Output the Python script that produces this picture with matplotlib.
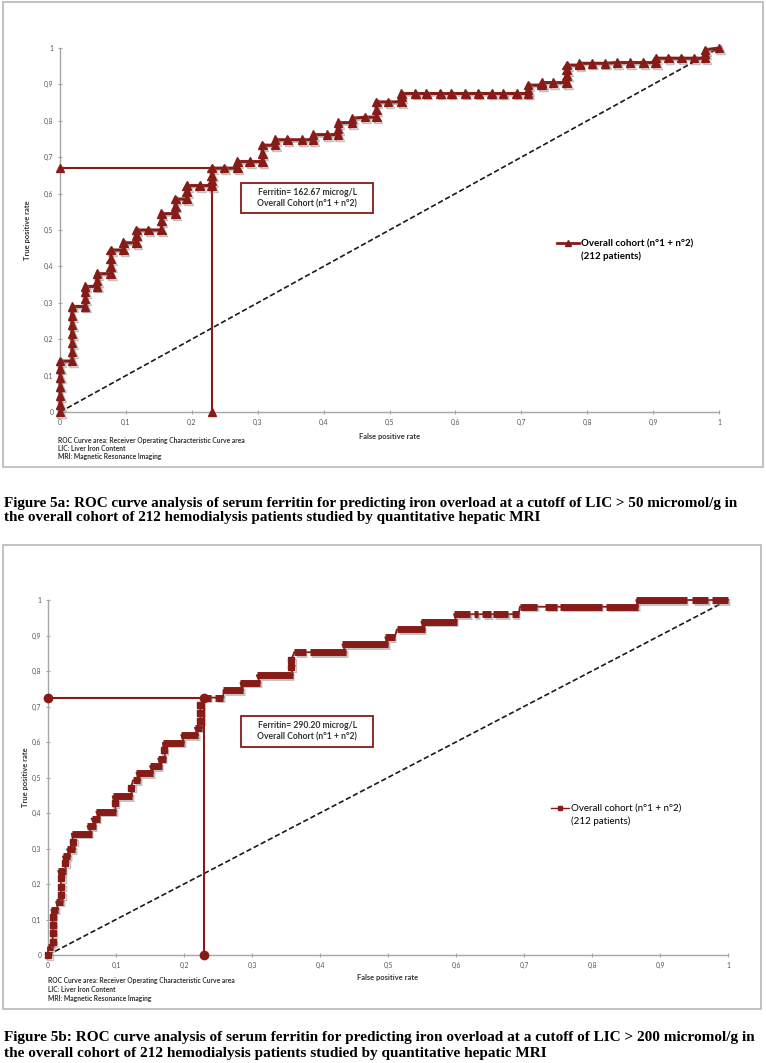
import matplotlib
matplotlib.use('Agg')
import matplotlib.pyplot as plt
import matplotlib.patheffects as pe
from matplotlib.patches import Rectangle
from matplotlib.lines import Line2D

W, H = 766, 1063
RED = '#861b17'
AXGREY = '#a6a6a6'
FONT = 'Lato'

ticks = [0, 0.1, 0.2, 0.3, 0.4, 0.5, 0.6, 0.7, 0.8, 0.9, 1]
tick_labels = ['0', '0,1', '0,2', '0,3', '0,4', '0,5', '0,6', '0,7', '0,8', '0,9', '1']

legend_lines = ['Overall cohort (n°1 + n°2)', '(212 patients)']
notes = ['ROC Curve area: Receiver Operating Characteristic Curve area',
         'LIC: Liver Iron Content',
         'MRI: Magnetic Resonance Imaging']
box_a = ['Ferritin= 162.67 microg/L', 'Overall Cohort (n°1 + n°2)']
box_b = ['Ferritin= 290.20 microg/L', 'Overall Cohort (n°1 + n°2)']
caption_a = ['Figure 5a: ROC curve analysis of serum ferritin for predicting iron overload at a cutoff of LIC > 50 micromol/g in',
             'the overall cohort of 212 hemodialysis patients studied by quantitative hepatic MRI']
caption_b = ['Figure 5b: ROC curve analysis of serum ferritin for predicting iron overload at a cutoff of LIC > 200 micromol/g in',
             'the overall cohort of 212 hemodialysis patients studied by quantitative hepatic MRI']

# figure 5a: ROC points (fpr, tpr), LIC > 50
roc_a = [(0, 0), (0, 0.02), (0, 0.045), (0, 0.07), (0, 0.095), (0, 0.12), (0, 0.14),
         (0.018, 0.14), (0.018, 0.165), (0.018, 0.19), (0.018, 0.215), (0.018, 0.24), (0.018, 0.265), (0.018, 0.29),
         (0.038, 0.29), (0.038, 0.31), (0.038, 0.33), (0.038, 0.345),
         (0.056, 0.345), (0.056, 0.36), (0.056, 0.38),
         (0.077, 0.38), (0.077, 0.40), (0.077, 0.42), (0.077, 0.445),
         (0.096, 0.445), (0.096, 0.465),
         (0.116, 0.465), (0.116, 0.485), (0.116, 0.50),
         (0.134, 0.50),
         (0.154, 0.50), (0.154, 0.525), (0.154, 0.545),
         (0.175, 0.545), (0.175, 0.565), (0.175, 0.585),
         (0.192, 0.585), (0.192, 0.605), (0.192, 0.622),
         (0.212, 0.622),
         (0.23, 0.622), (0.23, 0.635), (0.23, 0.65), (0.23, 0.67),
         (0.249, 0.67),
         (0.269, 0.67), (0.269, 0.688),
         (0.288, 0.688),
         (0.307, 0.688), (0.307, 0.71), (0.307, 0.733),
         (0.326, 0.733), (0.326, 0.748),
         (0.345, 0.748), (0.367, 0.748),
         (0.384, 0.748), (0.384, 0.762),
         (0.405, 0.762),
         (0.422, 0.762), (0.422, 0.778), (0.422, 0.795),
         (0.443, 0.795), (0.443, 0.807),
         (0.463, 0.81),
         (0.48, 0.81), (0.48, 0.83), (0.48, 0.852),
         (0.498, 0.852),
         (0.518, 0.852), (0.518, 0.865), (0.518, 0.875),
         (0.539, 0.875), (0.556, 0.875), (0.577, 0.875), (0.594, 0.875), (0.615, 0.875),
         (0.635, 0.875), (0.655, 0.875), (0.672, 0.875), (0.693, 0.875),
         (0.71, 0.875), (0.71, 0.885), (0.71, 0.898),
         (0.731, 0.898), (0.731, 0.905),
         (0.748, 0.905),
         (0.769, 0.905), (0.769, 0.925), (0.769, 0.94), (0.769, 0.953),
         (0.788, 0.953), (0.788, 0.958),
         (0.807, 0.958), (0.827, 0.958), (0.845, 0.96), (0.865, 0.96), (0.885, 0.96),
         (0.904, 0.96), (0.904, 0.972),
         (0.923, 0.972), (0.943, 0.972), (0.962, 0.972),
         (0.979, 0.972), (0.979, 0.985), (0.979, 0.995),
         (1.0, 1.0)]
cut_a_fpr = [0, 0.23, 0.23]
cut_a_tpr = [0.67, 0.67, 0]

# figure 5b: runs of tied points (tpr, fpr start, fpr end), LIC > 200
run_tpr_b = [0.022, 0.128, 0.150, 0.237, 0.278, 0.298, 0.342, 0.363, 0.384, 0.404,
             0.447, 0.492, 0.513, 0.532, 0.553, 0.598, 0.620, 0.640, 0.725, 0.725,
             0.746, 0.767, 0.788, 0.853, 0.853, 0.875, 0.895, 0.917, 0.939, 0.960,
             0.960, 0.960, 0.960, 0.960, 0.981, 0.981, 0.981, 0.981, 1.000, 1.000, 1.000]
run_start_b = [0.000, 0.005, 0.012, 0.015, 0.022, 0.028, 0.035, 0.058, 0.064, 0.071,
               0.095, 0.125, 0.130, 0.150, 0.162, 0.169, 0.196, 0.216, 0.231, 0.246,
               0.258, 0.283, 0.307, 0.362, 0.385, 0.433, 0.496, 0.513, 0.549, 0.597,
               0.626, 0.638, 0.655, 0.682, 0.694, 0.731, 0.753, 0.821, 0.865, 0.947, 0.976]
run_end_b = [0.008, 0.015, 0.022, 0.026, 0.033, 0.040, 0.064, 0.070, 0.076, 0.100,
             0.124, 0.136, 0.155, 0.167, 0.173, 0.200, 0.221, 0.227, 0.239, 0.258,
             0.287, 0.312, 0.360, 0.379, 0.438, 0.500, 0.510, 0.554, 0.601, 0.621,
             0.633, 0.652, 0.677, 0.692, 0.719, 0.748, 0.814, 0.868, 0.939, 0.971, 1.000]
# single points on the vertical steps
pt_fpr_b = [0.0, 0.007, 0.007, 0.007, 0.007, 0.019, 0.019, 0.019, 0.025, 0.037,
            0.098, 0.122, 0.170, 0.224, 0.224, 0.224, 0.358, 0.358]
pt_tpr_b = [0.0, 0.037, 0.061, 0.085, 0.108, 0.169, 0.192, 0.216, 0.258, 0.319,
            0.427, 0.471, 0.577, 0.660, 0.683, 0.704, 0.810, 0.830]
cut_b_fpr = [0, 0.23, 0.23]
cut_b_tpr = [0.725, 0.725, 0]


def fx(px):
    return px / W


def fy(py):
    return 1 - py / H


fig = plt.figure(figsize=(W / 100, H / 100), dpi=100)
renderer = fig.canvas.get_renderer()


def frame(x0, y0, x1, y1):
    fig.add_artist(Rectangle((fx(x0), fy(y1)), (x1 - x0) / W, (y1 - y0) / H,
                             transform=fig.transFigure, fill=False, ec='#b8b8b8', lw=1.2))


def make_axes(l, t, r, b):
    ax = fig.add_axes([fx(l), fy(b), (r - l) / W, (b - t) / H])
    ax.set_xlim(0, 1)
    ax.set_ylim(0, 1)
    for s in ['top', 'right']:
        ax.spines[s].set_visible(False)
    for s in ['left', 'bottom']:
        ax.spines[s].set_color(AXGREY)
        ax.spines[s].set_linewidth(1.0)
    ax.set_xticks(ticks)
    ax.set_xticklabels(tick_labels)
    ax.set_yticks(ticks)
    ax.set_yticklabels(tick_labels)
    ax.tick_params(direction='inout', length=3.5, width=0.8, color=AXGREY,
                   labelsize=4.9, labelcolor='#555555', pad=3)
    for lab in ax.get_xticklabels() + ax.get_yticklabels():
        lab.set_family(FONT)
    ax.set_xlabel('False positive rate', fontsize=5.4, fontweight='bold', family=FONT, color='#333333')
    ax.set_ylabel('True positive rate', fontsize=5.4, fontweight='bold', family=FONT, color='#333333')
    ax.plot([0, 1], [0, 1], ls=(0, (3.2, 1.6)), color='#1a1a1a', lw=1.2, zorder=2)
    return ax


def caption(lines, y1, y2, target):
    t = fig.text(fx(4), fy(y1), lines[0], fontsize=10, fontweight='bold',
                 family='Liberation Serif', va='center', ha='left', color='black')
    w = t.get_window_extent(renderer).width
    size = 10 * target / w
    t.set_fontsize(size)
    fig.text(fx(4), fy(y2), lines[1], fontsize=size, fontweight='bold',
             family='Liberation Serif', va='center', ha='left', color='black')


def footnotes(x, ys):
    for txt, y in zip(notes, ys):
        fig.text(fx(x), fy(y), txt, fontsize=4.85, fontweight='bold', family=FONT,
                 color='#333333', va='center', ha='left')


shadow = [pe.SimpleLineShadow(offset=(1.2, -1.2), shadow_color='#777777', alpha=0.45), pe.Normal()]

# ---------------- panel a ----------------
frame(3, 2, 763, 467)
ax1 = make_axes(60, 48, 719, 412)
ax1.xaxis.set_label_coords(0.5, -(433 - 412) / 364)
ax1.yaxis.set_label_coords(-(60 - 31) / 659, 0.5)

fpr_a = [p[0] for p in roc_a]
tpr_a = [p[1] for p in roc_a]
ax1.plot(cut_a_fpr, cut_a_tpr, color=RED, lw=1.5, marker='^', ms=6, markevery=[0, 2],
         clip_on=False, zorder=3)
ax1.plot(fpr_a, tpr_a, color=RED, lw=2.2, marker='^', ms=6.2, clip_on=False,
         zorder=4, path_effects=shadow)
ax1.add_patch(Rectangle((0.2747, 0.547), 0.2003, 0.082, fc='white', ec=RED, lw=1.3, zorder=5))
ax1.text(0.375, 0.588, '\n'.join(box_a), ha='center', va='center', fontsize=6.2,
         fontweight='bold', family=FONT, color='#333333', linespacing=1.35, zorder=6)
ax1.legend([Line2D([], [], color=RED, lw=2.0, marker='^', ms=5), Line2D([], [], ls='none')],
           legend_lines, loc='upper left', bbox_to_anchor=(fx(557), fy(239)),
           bbox_transform=fig.transFigure, frameon=False, borderpad=0, borderaxespad=0,
           handlelength=2.3, handletextpad=0.12, labelspacing=0.3, numpoints=1,
           prop={'family': FONT, 'size': 7.0, 'weight': 'bold'})
footnotes(58, [440, 448.5, 457])
caption(caption_a, 503, 518, 741)

# ---------------- panel b ----------------
frame(3, 545, 761, 1009)
ax2 = make_axes(48, 600, 728, 955)
ax2.xaxis.set_label_coords(0.5, -(974 - 955) / 355)
ax2.yaxis.set_label_coords(-(48 - 29) / 680, 0.5)

path_b = sorted([(s, y) for s, y in zip(run_start_b, run_tpr_b)] +
                [(e, y) for e, y in zip(run_end_b, run_tpr_b)] +
                list(zip(pt_fpr_b, pt_tpr_b)), key=lambda p: (p[1], p[0]))
ax2.plot([p[0] for p in path_b], [p[1] for p in path_b], color=RED, lw=1.3,
         clip_on=False, zorder=3)
ax2.hlines(run_tpr_b, run_start_b, run_end_b, color=RED, lw=5.0, capstyle='butt',
           clip_on=False, zorder=4, path_effects=shadow)
ax2.plot(pt_fpr_b, pt_tpr_b, ls='none', marker='s', ms=4.3, color=RED, clip_on=False,
         zorder=4, path_effects=shadow)
ax2.plot(cut_b_fpr, cut_b_tpr, color=RED, lw=1.5, marker='o', ms=6, clip_on=False, zorder=5)
ax2.add_patch(Rectangle((0.284, 0.586), 0.194, 0.087, fc='white', ec=RED, lw=1.3, zorder=5))
ax2.text(0.381, 0.629, '\n'.join(box_b), ha='center', va='center', fontsize=6.2,
         fontweight='bold', family=FONT, color='#333333', linespacing=1.35, zorder=6)
ax2.legend([Line2D([], [], color=RED, lw=1.0, marker='s', ms=3), Line2D([], [], ls='none')],
           legend_lines, loc='upper left', bbox_to_anchor=(fx(551), fy(804)),
           bbox_transform=fig.transFigure, frameon=False, borderpad=0, borderaxespad=0,
           handlelength=1.9, handletextpad=0.15, labelspacing=0.4, numpoints=1,
           prop={'family': FONT, 'size': 7.0})
footnotes(48, [981, 989.5, 998])
caption(caption_b, 1037, 1054, 751)

fig.savefig('out.png', dpi=100)
